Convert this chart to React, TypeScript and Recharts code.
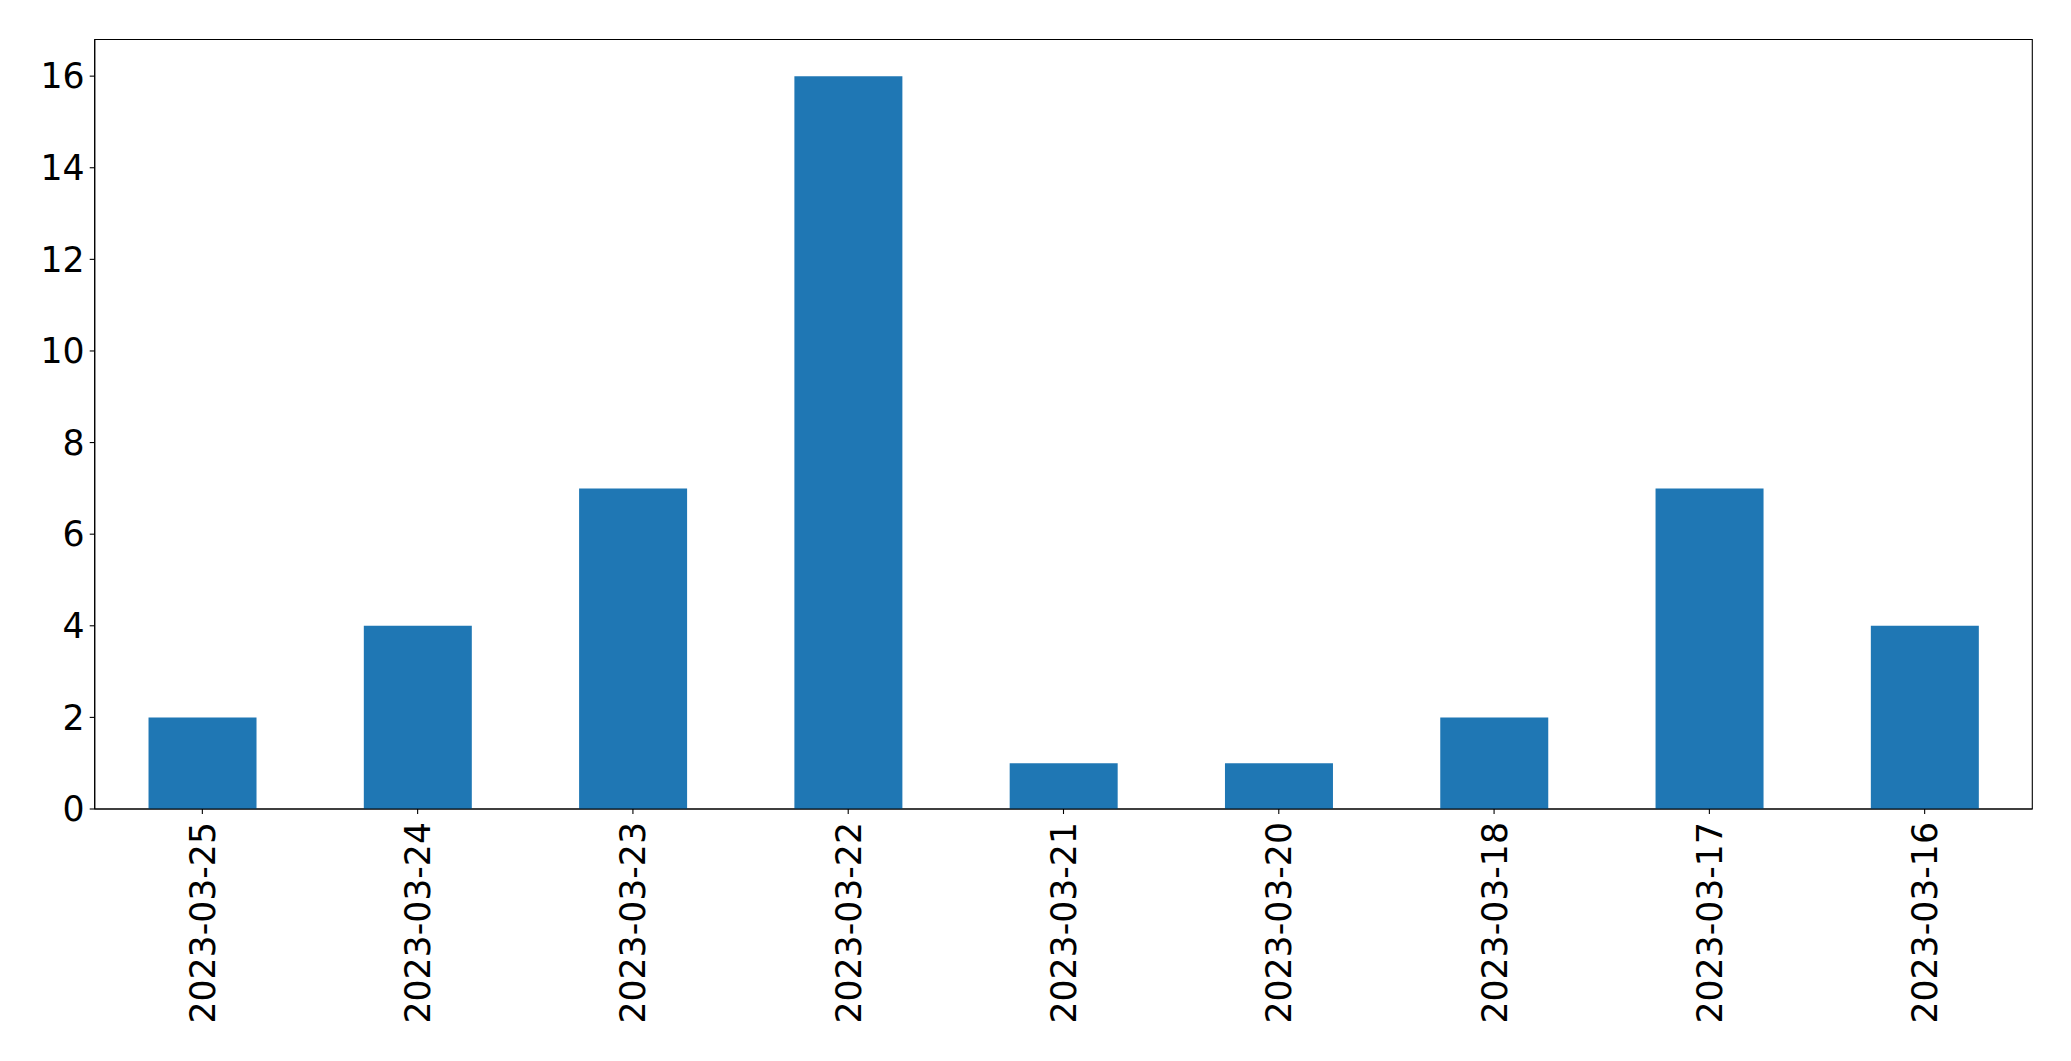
import React from "react";
import { BarChart, Bar, XAxis, YAxis, ReferenceArea } from "recharts";

const dates = ["2023-03-25", "2023-03-24", "2023-03-23", "2023-03-22", "2023-03-21", "2023-03-20", "2023-03-18", "2023-03-17", "2023-03-16"];
const counts = [2, 4, 7, 16, 1, 1, 2, 7, 4];
const yTicks = [0, 2, 4, 6, 8, 10, 12, 14, 16];
const yMax = 16.8;

const data = dates.map((d, i) => ({ date: d, count: counts[i] }));

const FONT = "'DejaVu Sans', sans-serif";
const FS = 34.7;

const XTick = (props: any) => {
  const { x, y, payload } = props;
  return (
    <g transform={`translate(${x},${y + 6})`}>
      <text transform="rotate(-90)" textAnchor="end" dy="0.36em" fontFamily={FONT} fontSize={FS} fill="#000">
        {payload.value}
      </text>
    </g>
  );
};

export default function App() {
  return (
    <div style={{ position: "absolute", left: 0, top: 0, width: 2071, height: 1061, background: "#fff" }}>
      <BarChart
        width={2071}
        height={1061}
        data={data}
        margin={{ top: 39.5, right: 38.7, left: 0, bottom: 0 }}
        barCategoryGap="25%"
      >
        <XAxis
          dataKey="date"
          interval={0}
          height={252}
          tick={<XTick />}
          tickSize={5}
          stroke="#000"
          axisLine={{ stroke: "#000", strokeWidth: 1.1 }}
          tickLine={{ stroke: "#000", strokeWidth: 1.1 }}
        />
        <YAxis
          domain={[0, yMax]}
          ticks={yTicks}
          width={94.7}
          tickSize={5}
          tickMargin={5}
          allowDataOverflow
          stroke="#000"
          tick={{ fontFamily: FONT, fontSize: FS, fill: "#000" }}
          axisLine={{ stroke: "#000", strokeWidth: 1.1 }}
          tickLine={{ stroke: "#000", strokeWidth: 1.1 }}
        />
        <Bar dataKey="count" fill="#1f77b4" isAnimationActive={false} />
        <ReferenceArea y1={0} y2={yMax} fill="none" fillOpacity={0} stroke="#000" strokeWidth={1.1} strokeOpacity={1} />
      </BarChart>
    </div>
  );
}
